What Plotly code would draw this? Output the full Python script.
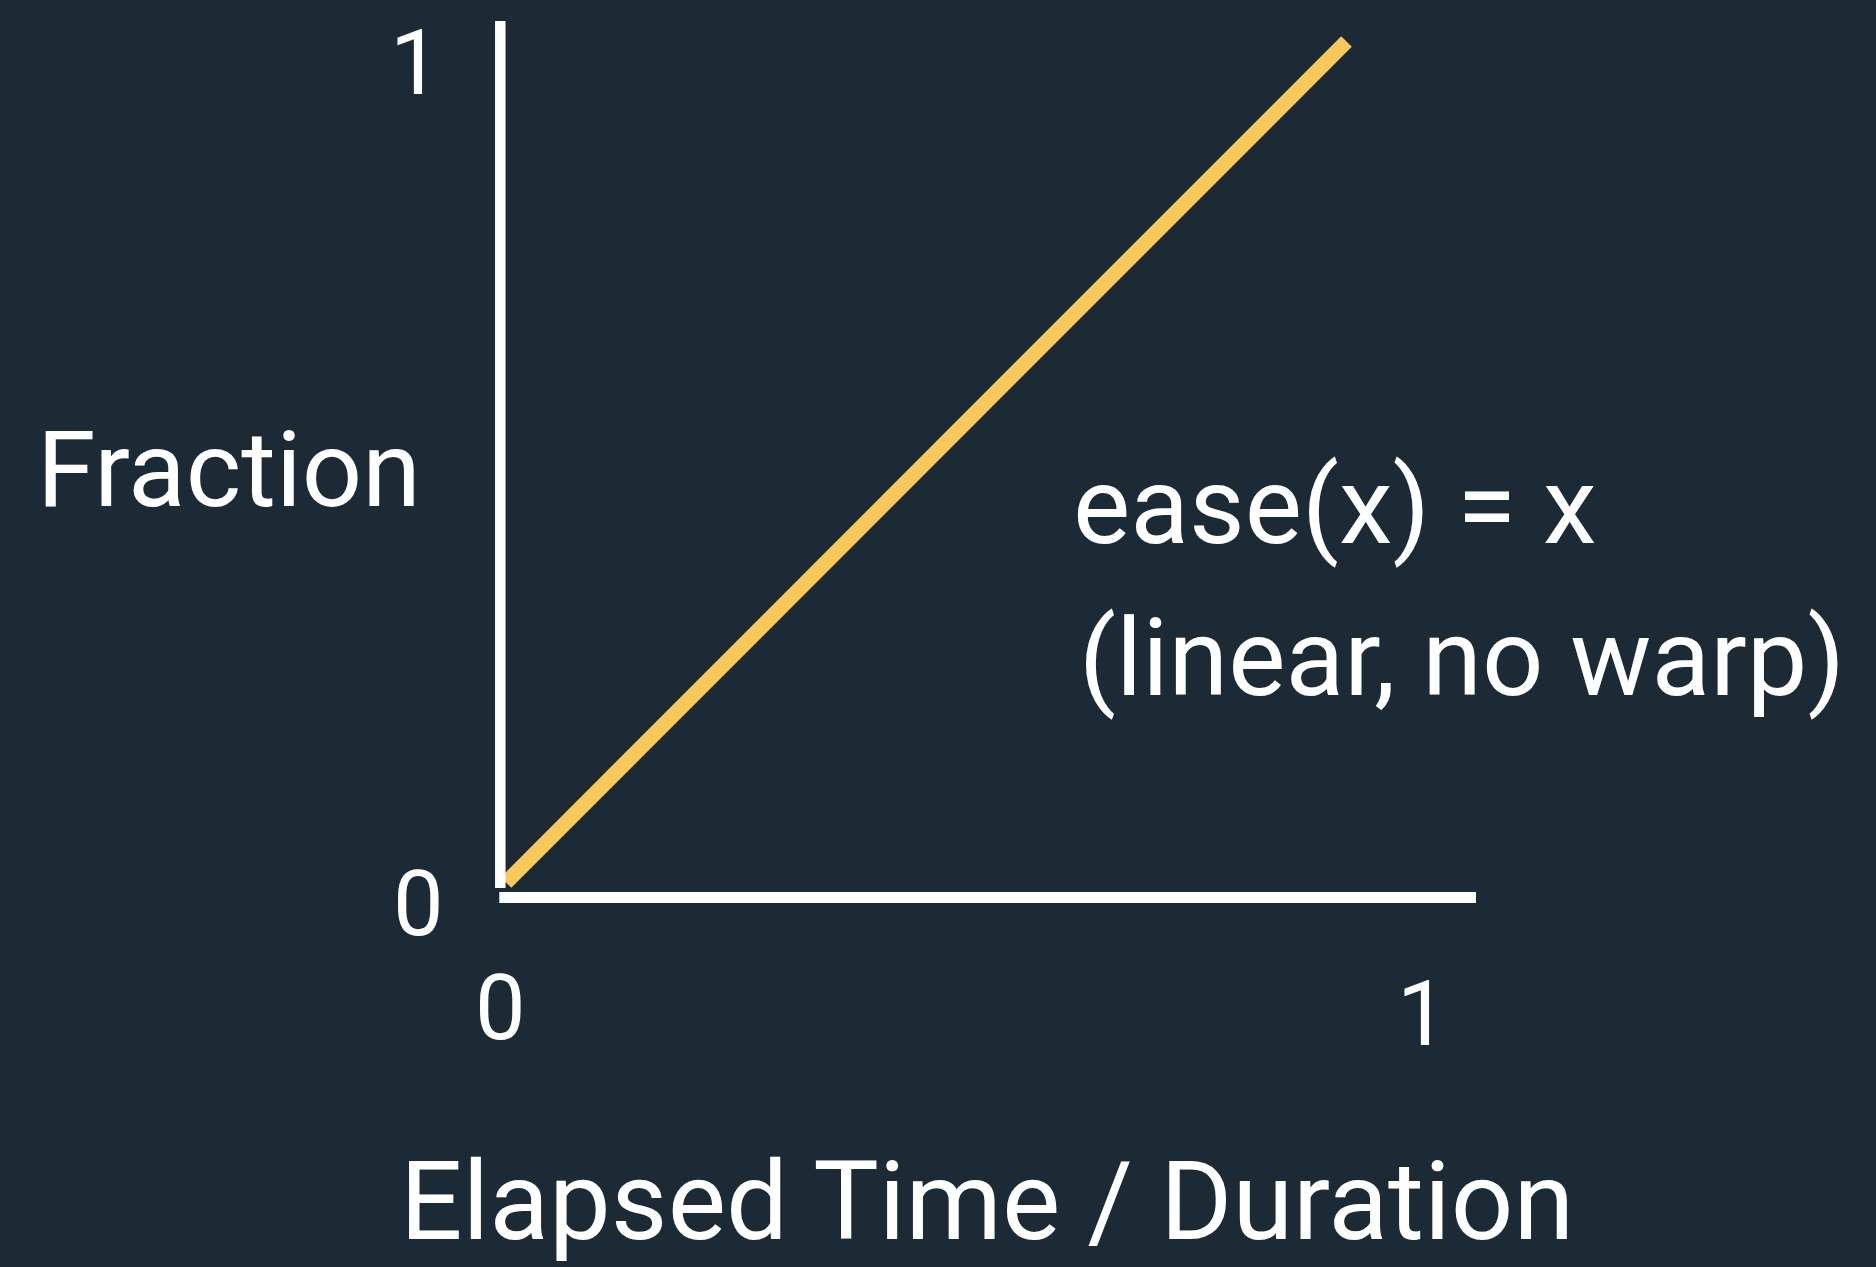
import plotly.graph_objects as go

# ---- data ----
x_vals = [0, 1]
y_vals = [0, 1]
x_tick_labels = ["0", "1"]
y_tick_labels = ["0", "1"]
x_title = "Elapsed Time / Duration"
y_title = "Fraction"
note_lines = ["ease(x) = x", "(linear, no warp)"]

# ---- layout geometry (pixels) ----
W, H = 1876, 1267
PL, PR, PT, PB = 490, 1480, 15, 910          # plot area
X0PX, X1PX = 506.0, 1346.5                   # pixel of x=0, x=1
Y0PX, Y1PX = 882.5, 41.5                     # pixel of y=0, y=1
sx = X1PX - X0PX
sy = Y0PX - Y1PX
xr = [(PL - X0PX) / sx, (PR - X0PX) / sx]
yr = [(Y0PX - PB) / sy, (Y0PX - PT) / sy]

def dx(px):
    return (px - X0PX) / sx

def dy(py):
    return (Y0PX - py) / sy

def paperx(px):
    return (px - PL) / (PR - PL)

def papery(py):
    return (PB - py) / (PB - PT)

BG = "#1c2a35"
YEL = "#f9c85b"
FONT = "Roboto"

fig = go.Figure()
fig.add_trace(go.Scatter(x=x_vals, y=y_vals, mode="lines",
                         line=dict(color=YEL, width=15),
                         hoverinfo="skip", showlegend=False))

# axis lines
fig.add_shape(type="line", xref="x", yref="y",
              x0=dx(500.3), x1=dx(500.3), y0=dy(21), y1=dy(888),
              line=dict(color="white", width=10.5))
fig.add_shape(type="line", xref="x", yref="y",
              x0=dx(499.3), x1=dx(1476), y0=dy(897.5), y1=dy(897.5),
              line=dict(color="white", width=11))

ann = []
def add_text(text, px, py, size, xanchor="center"):
    ann.append(dict(text=text, x=paperx(px), y=papery(py), xref="paper", yref="paper",
                    xanchor=xanchor, yanchor="middle", showarrow=False,
                    font=dict(family=FONT, size=size, color="white")))

# tick labels
add_text(y_tick_labels[1], 415, 63, 90)
add_text(y_tick_labels[0], 418, 904, 90)
add_text(x_tick_labels[0], 500, 1008, 90)
add_text(x_tick_labels[1], 1422, 1015, 90)
# titles
add_text(y_title, 229, 470, 106)
add_text(x_title, 987, 1201, 110)
add_text(note_lines[0], 1071, 506, 108, xanchor="left")
add_text(note_lines[1], 1077, 658, 108, xanchor="left")

fig.update_layout(
    width=W, height=H,
    margin=dict(l=PL, r=W - PR, t=PT, b=H - PB, pad=0),
    paper_bgcolor=BG, plot_bgcolor=BG,
    xaxis=dict(range=xr, visible=False, fixedrange=True),
    yaxis=dict(range=yr, visible=False, fixedrange=True),
    annotations=ann,
    showlegend=False,
)
fig.write_html(
    "out.html",
    config={"displayModeBar": False},
    post_script="document.body.style.margin='0';document.body.style.background='" + BG + "';",
)
